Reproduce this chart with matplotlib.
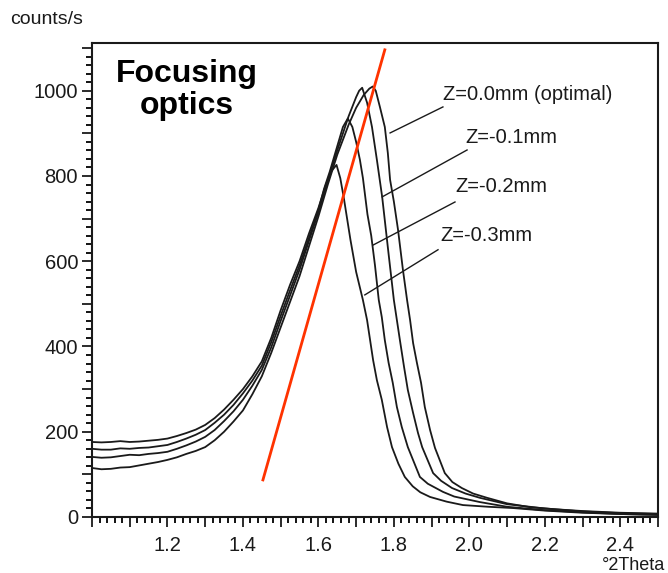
import numpy as np
import matplotlib
matplotlib.use("Agg")
from matplotlib import pyplot as plt
from matplotlib.ticker import MultipleLocator, FuncFormatter

plt.rcParams["font.family"] = ["Liberation Sans", "DejaVu Sans"]

# Scan data (2Theta in degrees, intensity in counts/s)
x_z00 = [1.00, 1.025, 1.05, 1.075, 1.10, 1.125, 1.15, 1.175, 1.20, 1.225, 1.25, 1.275,
         1.30, 1.325, 1.35, 1.375, 1.40, 1.425, 1.45, 1.475, 1.50, 1.525, 1.55, 1.575,
         1.60, 1.625, 1.65, 1.68, 1.70, 1.72, 1.735, 1.744, 1.752, 1.763, 1.776, 1.784,
         1.790, 1.800, 1.811, 1.824, 1.835, 1.843, 1.851, 1.861, 1.872, 1.882, 1.896,
         1.909, 1.935, 1.955, 1.980, 2.010, 2.047, 2.10, 2.161, 2.23, 2.30, 2.40, 2.50]
y_z00 = [115, 112, 113, 116, 117, 121, 125, 129, 134, 140, 148, 155,
         164, 180, 200, 224, 250, 288, 330, 385, 445, 505, 565, 635,
         705, 780, 850, 920, 960, 990, 1005, 1010, 1000, 962, 915, 854,
         791, 740, 674, 580, 509, 462, 408, 362, 315, 258, 204,
         162, 103, 82, 68, 55, 45, 32, 23, 18, 14, 10, 8]

x_z01 = [1.00, 1.025, 1.05, 1.075, 1.10, 1.125, 1.15, 1.175, 1.20, 1.225, 1.25, 1.275,
         1.30, 1.325, 1.35, 1.375, 1.40, 1.425, 1.45, 1.475, 1.50, 1.525, 1.55, 1.575,
         1.60, 1.625, 1.65, 1.68, 1.70, 1.708, 1.716, 1.729, 1.742, 1.755, 1.769, 1.785,
         1.800, 1.808, 1.816, 1.827, 1.837, 1.851, 1.864, 1.875, 1.904, 1.925, 1.954,
         1.990, 2.028, 2.10, 2.20, 2.30, 2.40, 2.50]
y_z01 = [141, 139, 140, 143, 146, 145, 148, 150, 153, 160, 168, 177,
         188, 204, 225, 248, 275, 308, 345, 398, 460, 520, 580, 648,
         715, 790, 860, 940, 985, 1000, 1007, 972, 915, 838, 751, 625,
         509, 462, 415, 352, 298, 244, 197, 164, 103, 85, 68,
         55, 45, 30, 20, 13, 9, 7]

x_z02 = [1.00, 1.025, 1.05, 1.075, 1.10, 1.125, 1.15, 1.175, 1.20, 1.225, 1.25, 1.275,
         1.30, 1.325, 1.35, 1.375, 1.40, 1.425, 1.45, 1.475, 1.50, 1.525, 1.55, 1.575,
         1.60, 1.615, 1.63, 1.65, 1.665, 1.678, 1.69, 1.70, 1.710, 1.718, 1.730, 1.740,
         1.750, 1.760, 1.768, 1.776, 1.786, 1.797, 1.808, 1.821, 1.837, 1.869, 1.890,
         1.930, 1.960, 2.028, 2.10, 2.20, 2.30, 2.40, 2.50]
y_z02 = [160, 158, 158, 161, 160, 162, 163, 166, 169, 176, 184, 193,
         204, 221, 240, 263, 290, 320, 355, 410, 472, 532, 590, 655,
         720, 770, 810, 870, 915, 935, 915, 880, 838, 795, 710, 660,
         590, 509, 469, 415, 362, 315, 258, 211, 164, 94, 78,
         59, 48, 35, 24, 16, 11, 7, 5]

x_z03 = [1.00, 1.025, 1.05, 1.075, 1.10, 1.125, 1.15, 1.175, 1.20, 1.225, 1.25, 1.275,
         1.30, 1.325, 1.35, 1.375, 1.40, 1.425, 1.45, 1.475, 1.50, 1.525, 1.55, 1.575,
         1.60, 1.62, 1.635, 1.648, 1.658, 1.668, 1.685, 1.700, 1.718, 1.729, 1.737, 1.745,
         1.755, 1.768, 1.782, 1.795, 1.812, 1.829, 1.850, 1.870, 1.896, 1.940, 1.983,
         2.05, 2.116, 2.20, 2.30, 2.40, 2.50]
y_z03 = [176, 175, 176, 178, 176, 177, 179, 181, 184, 190, 197, 205,
         216, 232, 252, 275, 300, 330, 365, 420, 485, 545, 600, 665,
         725, 780, 812, 826, 795, 745, 650, 575, 509, 462, 415, 368,
         321, 275, 211, 164, 125, 94, 72, 58, 47, 36, 28,
         24, 21, 15, 10, 7, 5]

# red guide line (start, end)
guide_x = [1.453, 1.776]
guide_y = [87, 1096]

# labels: text, text anchor (x, y), leader start, leader end
labels = ["Z=0.0mm (optimal)", "Z=-0.1mm", "Z=-0.2mm", "Z=-0.3mm"]
label_x = [1.930, 1.989, 1.962, 1.922]
label_y = [991, 890, 775, 660]
lead_x0 = [1.930, 1.994, 1.962, 1.917]
lead_y0 = [962, 861, 739, 627]
lead_x1 = [1.790, 1.769, 1.745, 1.723]
lead_y1 = [901, 751, 638, 521]

fig = plt.figure(figsize=(6.68, 5.73), dpi=100)
ax = fig.add_axes([92 / 668, 56 / 573, 566 / 668, 474 / 573])

line_kw = dict(color="#1a1a1a", lw=1.3)
for xs, ys in [(x_z00, y_z00), (x_z01, y_z01), (x_z02, y_z02), (x_z03, y_z03)]:
    ax.plot(xs, ys, **line_kw)

for i, lab in enumerate(labels):
    ax.plot([lead_x0[i], lead_x1[i]], [lead_y0[i], lead_y1[i]], color="#1a1a1a", lw=1.0)
    ax.text(label_x[i], label_y[i], lab, fontsize=14.5, va="center", ha="left",
            color="#1a1a1a")

ax.plot(guide_x, guide_y, color="#ff3300", lw=2)

ax.text(0.168, 0.966, "Focusing\noptics", transform=ax.transAxes, fontsize=23,
        fontweight="bold", ha="center", va="top", linespacing=1.1)

ax.set_xlim(1.0, 2.5)
ax.set_ylim(0, 1112)

ax.xaxis.set_major_locator(MultipleLocator(0.1))
ax.xaxis.set_minor_locator(MultipleLocator(0.02))
ax.yaxis.set_major_locator(MultipleLocator(100))
ax.yaxis.set_minor_locator(MultipleLocator(20))


def xfmt(v, pos):
    k = int(round(v * 10))
    if k % 2 == 0 and k > 10:
        return f"{v:.1f}"
    return ""


def yfmt(v, pos):
    k = int(round(v))
    if k % 200 == 0:
        return f"{k}"
    return ""


ax.xaxis.set_major_formatter(FuncFormatter(xfmt))
ax.yaxis.set_major_formatter(FuncFormatter(yfmt))
ax.tick_params(which="major", direction="out", length=7, width=1.3, labelsize=14.5,
               colors="#1a1a1a")
ax.tick_params(which="minor", direction="out", length=4, width=1.3)
ax.tick_params(axis="x", which="major", pad=7)
ax.tick_params(axis="y", which="major", pad=3)
for s in ax.spines.values():
    s.set_linewidth(1.5)
    s.set_color("#1a1a1a")

fig.text(10 / 668, 1 - 20 / 573, "counts/s", fontsize=14, ha="left", va="center",
         color="#1a1a1a")
fig.text(665 / 668, 1 - 565 / 573, "°2Theta", fontsize=13, ha="right", va="center",
         color="#1a1a1a")

fig.savefig("out.png", dpi=100)
